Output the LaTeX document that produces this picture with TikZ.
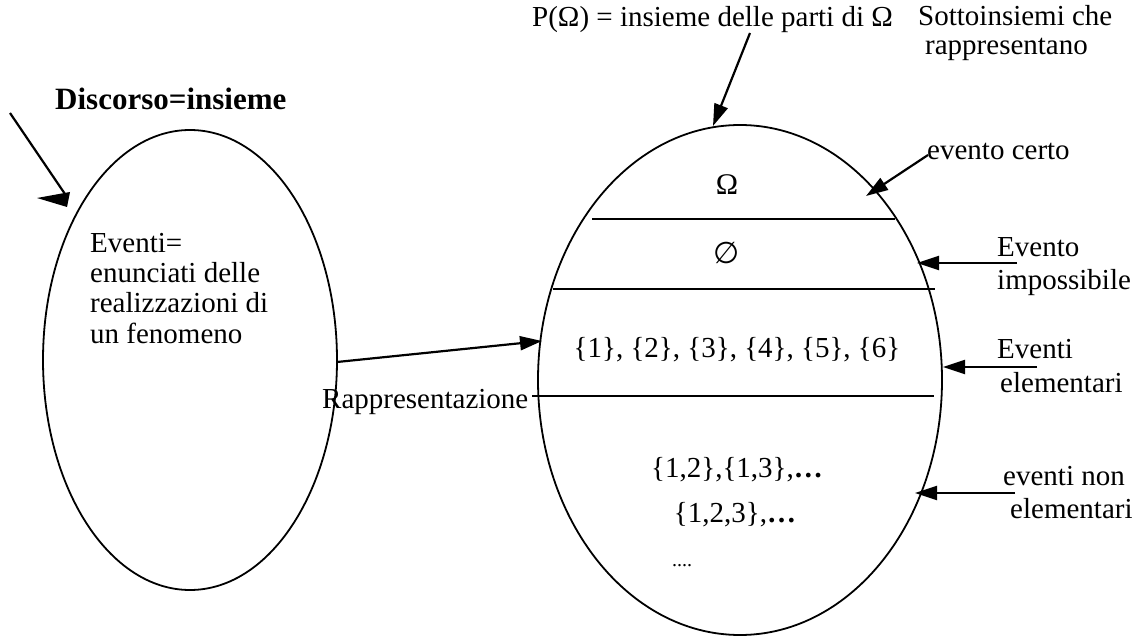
\documentclass[tikz,border=0pt]{standalone}
\usepackage{fontspec}
\setmainfont{Liberation Serif}
\newfontfamily\djv{DejaVu Sans}
\usetikzlibrary{arrows.meta,shapes.geometric}
\begin{document}
\begin{tikzpicture}[x=1pt,y=-1pt,
  txt/.style={font=\fontsize{29}{33}\selectfont, inner sep=0pt},
  lbl/.style={txt, align=left, anchor=base west},
  ell/.style={draw, ellipse, line width=1.8pt, inner sep=0pt},
  arr/.style={line width=2.2pt, -{Triangle[length=22pt,width=14pt]}},
  sepline/.style={line width=2pt}]
\useasboundingbox (0,0) rectangle (1146,636);

% ellipses
\node[ell, minimum width=294pt, minimum height=460pt] (L) at (190,360) {};
\node[ell, minimum width=404pt, minimum height=510pt] (R) at (740,380) {};

% texts (anchor = baseline of the last line)
\node[txt, anchor=base west, font=\fontsize{31}{35}\selectfont\bfseries] (disc) at (55,110) {Discorso=insieme};
\node[lbl, font=\fontsize{29}{30}\selectfont] (ev) at (90,343) {Eventi=\\enunciati delle\\realizzazioni di\\un fenomeno};
\node[lbl] (pom) at (532,27) {P(Ω) = insieme delle parti di Ω};
\node[lbl, font=\fontsize{29}{29}\selectfont] (sott) at (918,55) {Sottoinsiemi che\\\hspace*{7pt}rappresentano};
\node[lbl] (certo) at (927,160) {evento certo};
\node[lbl, font=\fontsize{29}{33}\selectfont] (imp) at (997,290) {Evento\\impossibile};
\node[lbl, font=\fontsize{29}{34}\selectfont] (elem) at (997,392) {Eventi\\\hspace*{3pt}elementari};
\node[lbl, font=\fontsize{29}{33}\selectfont] (nonel) at (1003,518) {eventi non\\\hspace*{7pt}elementari};
\node[lbl] (rapp) at (322,408) {Rappresentazione};

\node[txt, font=\fontsize{30}{34}\selectfont] (om) at (727,185) {Ω};
\node[txt, font=\djv\fontsize{30}{34}\selectfont] (vuoto) at (727,253) {∅};
\node[txt] (sing) at (737,350) {\{1\}, \{2\}, \{3\}, \{4\}, \{5\}, \{6\}};
\node[txt] (coppie) at (737,470) {\{1,2\},\{1,3\},\textbf{…}};
\node[txt] (terne) at (735,515) {\{1,2,3\},\textbf{…}};
\node[txt, font=\fontsize{20}{24}\selectfont] (puntini) at (682,566) {....};

% separator lines
\coordinate (s1a) at (592,219); \coordinate (s1b) at (895,219);
\coordinate (s2a) at (553,289); \coordinate (s2b) at (935,289);
\coordinate (s3a) at (532,396); \coordinate (s3b) at (934,396);
\draw[sepline] (s1a) -- (s1b);
\draw[sepline] (s2a) -- (s2b);
\draw[sepline] (s3a) -- (s3b);

% arrows
\coordinate (d0) at (10,113); \coordinate (d1) at (67,197);
\draw[line width=2.2pt] (d0) -- (d1);
\fill (37,198) -- (70,192) -- (67,207) -- cycle;

\coordinate (p0) at (750,33); \coordinate (p1) at (713,126);
\draw[arr] (p0) -- (p1);
\coordinate (c0) at (928,155); \coordinate (c1) at (866,196);
\draw[arr] (c0) -- (c1);
\coordinate (i0) at (1017,263); \coordinate (i1) at (917,263);
\draw[arr] (i0) -- (i1);
\coordinate (e0) at (1037,367); \coordinate (e1) at (943,367);
\draw[arr] (e0) -- (e1);
\coordinate (n0) at (1015,493); \coordinate (n1) at (915,493);
\draw[arr] (n0) -- (n1);
\coordinate (r0) at (337,362); \coordinate (r1) at (542,341);
\draw[arr] (r0) -- (r1);
\end{tikzpicture}
\end{document}
